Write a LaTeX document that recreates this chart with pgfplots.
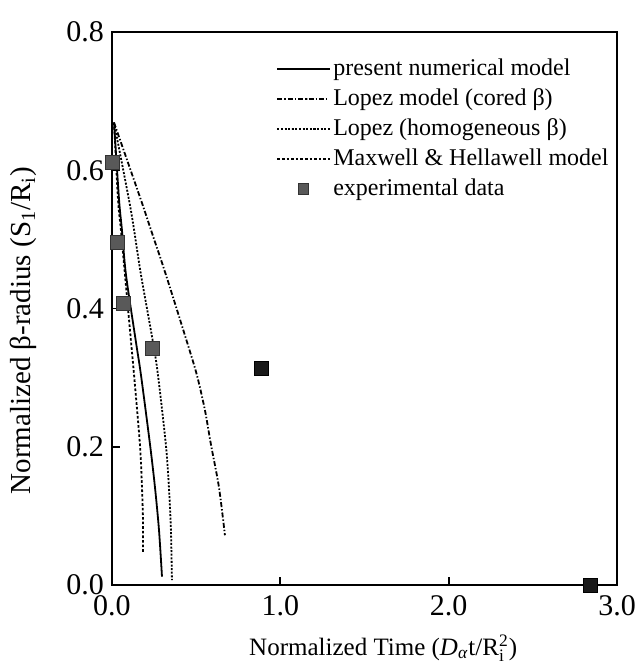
\documentclass[border=0pt]{standalone}
\usepackage{fontspec}
\setmainfont{Liberation Serif}
\usepackage{pgfplots}
\pgfplotsset{compat=1.18}
\begin{document}
\begin{tikzpicture}
\path[use as bounding box] (-56pt,-42pt) rectangle (262.5pt,292.5pt);
\begin{axis}[
    at={(0pt,0pt)}, anchor=south west,
    scale only axis,
    width=252.5pt, height=276.5pt,
    xmin=0, xmax=3, ymin=0, ymax=0.8,
    xtick={0,1,2,3},
    ytick={0,0.2,0.4,0.6,0.8},
    tick pos=left, tick align=inside,
    major tick length=4pt,
    tick style={line width=0.9pt, black},
    axis line style={line width=1.1pt},
    /pgf/number format/fixed,
    /pgf/number format/fixed zerofill,
    /pgf/number format/precision=1,
    /pgf/number format/assume math mode=true,
    tick label style={font=\fontsize{15}{17}\selectfont},
    xticklabel style={yshift=-1.5pt},
    yticklabel style={xshift=-0.5pt},
    xlabel={Normalized Time (\textit{D}\textsubscript{\textit{α}}t/R$_{\mathrm{i}}^{\mathrm{2}}$)},
    ylabel={Normalized β-radius (S\textsubscript{1}/R\textsubscript{i})},
    xlabel style={font=\fontsize{12.5}{15}\selectfont,
        at={(axis description cs:0.537,-0.114)}, anchor=center},
    ylabel style={font=\fontsize{14.5}{17}\selectfont,
        at={(axis description cs:-0.175,0.46)}, anchor=center},
    legend cell align=left,
    legend style={draw=none, fill=none,
        at={(axis description cs:0.313,0.968)}, anchor=north west,
        font=\fontsize{12}{14}\selectfont,
        nodes={text height=9pt, text depth=3pt, inner sep=1.5pt}},
    legend image code/.code={
        \draw[mark repeat=2, mark phase=2, #1, mark size=2.7pt]
            plot coordinates {(0pt,0pt) (13pt,0pt) (26pt,0pt)};},
]
% present numerical model
\addplot[black, line width=0.9pt, smooth, no markers] coordinates {
    (0.012,0.669) (0.042,0.557) (0.059,0.514) (0.083,0.449)
    (0.142,0.352) (0.172,0.304) (0.226,0.203) (0.255,0.142)
    (0.279,0.080) (0.297,0.012)
};
\addlegendentry{present numerical model}
% Lopez model (cored beta)
\addplot[black, line width=0.9pt, smooth, no markers,
    dash pattern=on 2.5pt off 1pt on 0.7pt off 1pt] coordinates {
    (0.012,0.669) (0.172,0.557) (0.231,0.514) (0.320,0.449)
    (0.445,0.352) (0.504,0.304) (0.552,0.253) (0.588,0.203)
    (0.635,0.142) (0.671,0.072)
};
\addlegendentry{Lopez model (cored β)}
% Lopez (homogeneous beta)
\addplot[black, line width=0.9pt, smooth, no markers,
    dash pattern=on 1pt off 0.8pt] coordinates {
    (0.012,0.669) (0.101,0.557) (0.131,0.514) (0.172,0.449)
    (0.243,0.352) (0.273,0.304) (0.320,0.203) (0.338,0.142)
    (0.350,0.080) (0.356,0.007)
};
\addlegendentry{Lopez (homogeneous β)}
% Maxwell & Hellawell model
\addplot[black, line width=0.9pt, smooth, no markers,
    dash pattern=on 1.3pt off 1pt] coordinates {
    (0.012,0.669) (0.036,0.557) (0.053,0.514) (0.077,0.449)
    (0.113,0.352) (0.131,0.304) (0.166,0.203) (0.178,0.142)
    (0.184,0.094) (0.184,0.046)
};
\addlegendentry{Maxwell \& Hellawell model}
% experimental data
\addplot[only marks, mark=square*, mark size=3.5pt,
    draw=black!80, fill=black!65] coordinates {
    (0.005,0.612) (0.035,0.496) (0.070,0.407) (0.240,0.343)
};
\addlegendentry{experimental data}
\addplot[only marks, mark=square*, mark size=3.5pt,
    draw=black, fill=black!90, forget plot] coordinates {
    (0.885,0.314) (2.84,0.0)
};
\end{axis}
\end{tikzpicture}
\end{document}
